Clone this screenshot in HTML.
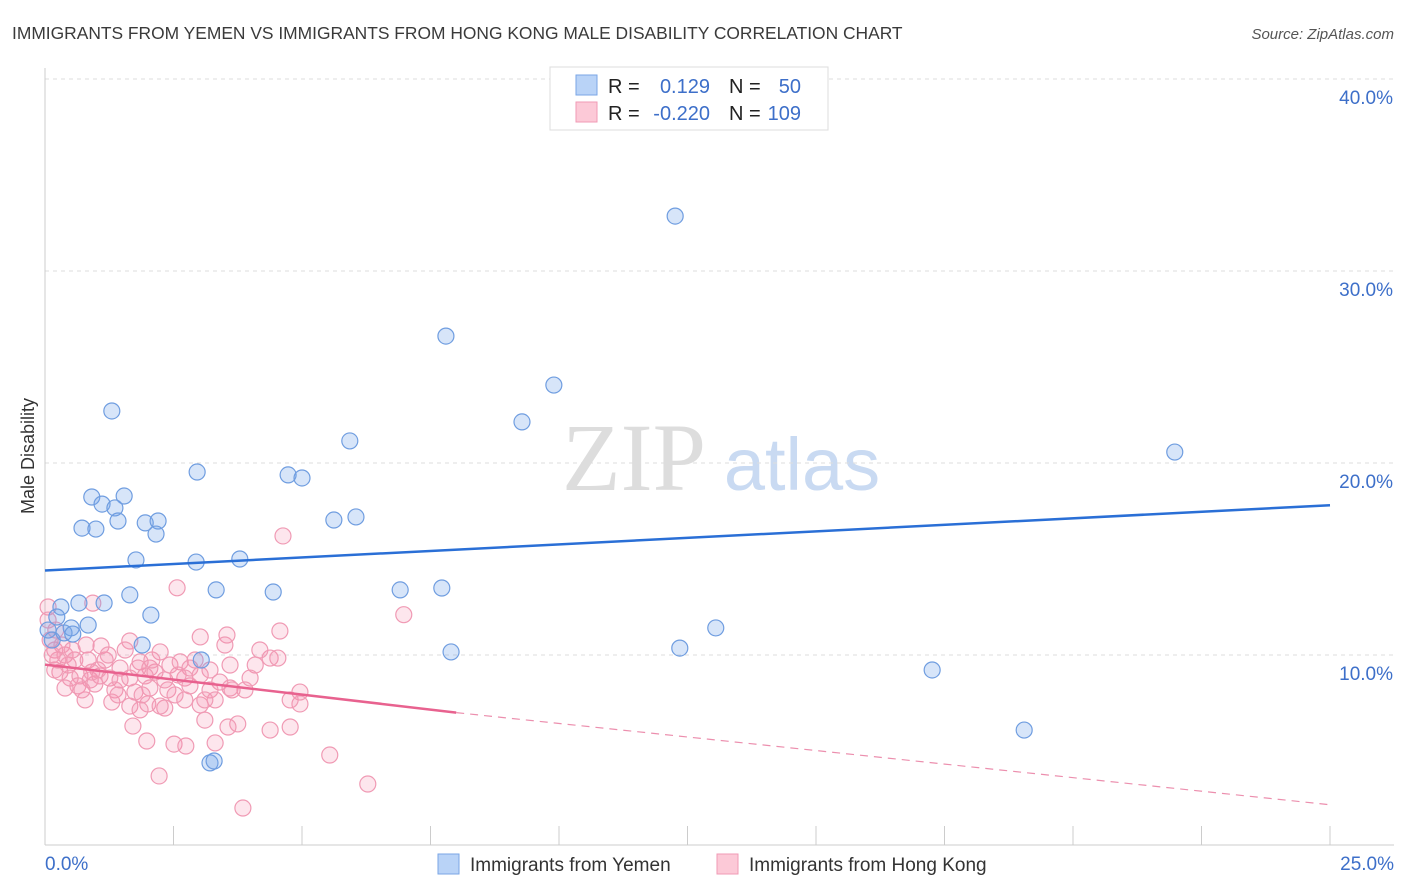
<!DOCTYPE html>
<html><head><meta charset="utf-8">
<style>
body{margin:0;background:#fff;font-family:"Liberation Sans",sans-serif;}
#wrap{position:relative;width:1406px;height:892px;overflow:hidden;}
</style></head>
<body>
<div id="wrap">
<svg id="chart" width="1406" height="892">
  <text x="12" y="39" font-size="17.4" fill="#3a3a3a">IMMIGRANTS FROM YEMEN VS IMMIGRANTS FROM HONG KONG MALE DISABILITY CORRELATION CHART</text>
  <text x="1394" y="39" font-size="15" fill="#555" text-anchor="end" font-style="italic">Source: ZipAtlas.com</text>
  <text x="34" y="456" font-size="18" fill="#333" text-anchor="middle" transform="rotate(-90 34 456)">Male Disability</text>
  <g>
    <text x="634" y="490" font-size="96" fill="#ddd" font-family="Liberation Serif,serif" text-anchor="middle">ZIP</text>
    <text x="802" y="490" font-size="74" fill="#c9daf2" text-anchor="middle">atlas</text>
  </g>
  <g id="grid"></g><g id="axes"></g><g id="pts"></g><g id="trends"></g>
  <g>
    <rect x="550" y="67" width="278" height="63" fill="#fff" stroke="#ddd"/>
    <rect x="576" y="75" width="21" height="20" fill="#b9d3f7" stroke="#7aa6e6"/>
    <rect x="576" y="102" width="21" height="20" fill="#fcc9d7" stroke="#f09ab4"/>
    <text x="608" y="93" font-size="20" fill="#222">R =</text>
    <text x="710" y="93" font-size="20" fill="#3d6fc9" text-anchor="end">0.129</text>
    <text x="729" y="93" font-size="20" fill="#222">N =</text>
    <text x="801" y="93" font-size="20" fill="#3d6fc9" text-anchor="end">50</text>
    <text x="608" y="120" font-size="20" fill="#222">R =</text>
    <text x="710" y="120" font-size="20" fill="#3d6fc9" text-anchor="end">-0.220</text>
    <text x="729" y="120" font-size="20" fill="#222">N =</text>
    <text x="801" y="120" font-size="20" fill="#3d6fc9" text-anchor="end">109</text>
  </g>
  <g>
    <rect x="438" y="854" width="21" height="20" fill="#b9d3f7" stroke="#7aa6e6"/>
    <text x="470" y="871" font-size="19" fill="#333">Immigrants from Yemen</text>
    <rect x="717" y="854" width="21" height="20" fill="#fcc9d7" stroke="#f09ab4"/>
    <text x="749" y="871" font-size="19" fill="#333">Immigrants from Hong Kong</text>
  </g>
</svg>
</div>
<script>
const yemenX=[12.26,7.80,9.90,1.30,9.28,5.93,21.98,2.96,4.73,5.00,0.91,1.54,1.11,1.36,1.42,0.72,0.99,1.95,2.20,5.62,6.05,2.16,1.77,2.94,3.79,6.91,7.72,3.33,4.44,1.65,0.66,1.15,0.31,2.06,0.23,0.84,0.51,0.37,0.54,0.14,1.89,13.05,12.35,7.90,3.04,17.26,19.05,3.21,3.29,0.06];
const yemenY=[32.86,26.61,24.06,22.71,22.14,21.15,20.57,19.53,19.38,19.22,18.23,18.28,17.86,17.66,16.98,16.61,16.56,16.88,16.98,17.03,17.19,16.30,14.95,14.84,15.00,13.39,13.49,13.39,13.28,13.13,12.71,12.71,12.50,12.08,11.98,11.56,11.41,11.15,11.09,10.78,10.52,11.41,10.36,10.16,9.74,9.22,6.09,4.38,4.48,11.30];
const hkX=[4.63,2.57,6.98,0.93,4.57,0.06,3.54,3.02,1.65,1.09,0.80,2.24,0.19,0.39,0.58,1.17,1.46,1.85,2.04,2.43,2.63,2.82,3.21,3.60,4.09,4.38,4.53,0.29,0.49,0.68,0.88,1.07,1.26,1.46,1.65,1.95,2.14,2.33,2.72,3.02,3.40,3.99,0.19,0.39,0.64,0.97,1.36,1.75,2.04,2.39,2.82,3.21,3.60,4.96,0.78,1.30,1.65,2.00,2.33,2.72,3.02,3.31,4.96,1.85,2.24,1.71,3.11,3.75,3.56,4.38,4.77,1.98,2.51,2.74,3.31,5.54,2.22,6.28,3.85,0.10,0.25,0.33,0.53,0.84,1.03,1.23,1.56,1.81,2.08,2.59,2.92,3.50,3.89,4.18,0.14,0.45,0.72,0.91,1.42,1.89,2.53,3.11,3.64,4.77,0.06,0.21];
const hkY=[16.2,13.5,12.1,12.7,11.25,12.5,11.04,10.94,10.73,10.47,10.52,10.16,10.26,10.0,9.74,9.74,9.32,9.64,9.32,9.48,9.64,9.32,9.22,9.48,9.48,9.84,9.84,9.11,8.80,8.91,8.70,8.91,8.80,8.70,8.80,8.91,9.11,8.70,8.80,8.96,8.59,8.80,9.22,8.28,8.39,8.49,8.18,8.07,8.28,8.18,8.39,8.18,8.28,8.07,7.66,7.55,7.34,7.45,7.24,7.66,7.40,7.66,7.45,7.14,7.34,6.30,6.61,6.41,6.25,6.09,6.25,5.52,5.36,5.26,5.42,4.79,3.70,3.28,2.03,10.78,9.74,10.52,10.26,9.74,9.22,10.0,10.26,9.32,9.74,8.96,9.74,10.52,8.18,10.26,10.0,9.48,8.18,9.11,7.92,7.92,7.92,7.66,8.18,7.66,11.82,11.30];
const yTicks=[10,20,30,40];
const yTickLabels=["10.0%","20.0%","30.0%","40.0%"];
const xTicks=[0,2.5,5,7.5,10,12.5,15,17.5,20,22.5,25];
const yemenTrend=[[0,14.4],[25,17.8]];
const hkTrendSolid=[[0,9.5],[8.0,7.0]];
const hkTrendDash=[[8.0,7.0],[25,2.2]];

const NS="http://www.w3.org/2000/svg";
const X0=45,X1=1330,YB=847,PXPERPCT=19.2;
const sx=v=>X0+(X1-X0)*v/25;
const sy=v=>YB-v*PXPERPCT;
function mk(tag,attrs,parent){const e=document.createElementNS(NS,tag);for(const k in attrs)e.setAttribute(k,attrs[k]);parent.appendChild(e);return e;}
const grid=document.getElementById('grid'),axes=document.getElementById('axes'),pts=document.getElementById('pts'),tr=document.getElementById('trends');
yTicks.forEach((t,i)=>{
  const l=mk('line',{x1:X0,x2:1394,y1:sy(t),y2:sy(t),stroke:'#ddd','stroke-dasharray':'4,4'},grid);
  
  
  const tx=mk('text',{x:1393,y:sy(t)+25,'font-size':19,fill:'#3d6fc9','text-anchor':'end'},axes);
  tx.textContent=yTickLabels[i];
  
  
});
const xa=mk('line',{x1:X0,x2:1394,y1:845,y2:845,stroke:'#ccc'},axes);


const ya=mk('line',{x1:X0,x2:X0,y1:68,y2:845,stroke:'#ccc'},axes);


xTicks.forEach(t=>{
  const l=mk('line',{x1:sx(t),x2:sx(t),y1:826,y2:845,stroke:'#ccc'},axes);
  
  
});
const xl0=mk('text',{x:45,y:870,'font-size':19,fill:'#3d6fc9'},axes);xl0.textContent='0.0%';


const xl1=mk('text',{x:1394,y:870,'font-size':19,fill:'#3d6fc9','text-anchor':'end'},axes);xl1.textContent='25.0%';


hkX.forEach((v,i)=>{
  const c=mk('circle',{cx:sx(v),cy:sy(hkY[i]),r:8,fill:'rgba(244,140,175,0.22)',stroke:'#f09ab4','stroke-width':1.2},pts);
  
  
});
yemenX.forEach((v,i)=>{
  const c=mk('circle',{cx:sx(v),cy:sy(yemenY[i]),r:8,fill:'rgba(110,160,235,0.28)',stroke:'#6f9de0','stroke-width':1.2},pts);
  
  
});
function line(seg,stroke,w,dash,name){
  const l=mk('line',{x1:sx(seg[0][0]),y1:sy(seg[0][1]),x2:sx(seg[1][0]),y2:sy(seg[1][1]),stroke:stroke,'stroke-width':w},tr);
  if(dash)l.setAttribute('stroke-dasharray',dash);
  
  
}
line(yemenTrend,'#2a6fd6',2.5,null,'yemen-trend-line');
line(hkTrendSolid,'#e8628f',2.5,null,'hongkong-trend-line');
line(hkTrendDash,'#ec8fae',1.2,'8,6','hongkong-trend-extension');
</script>
</body></html>
